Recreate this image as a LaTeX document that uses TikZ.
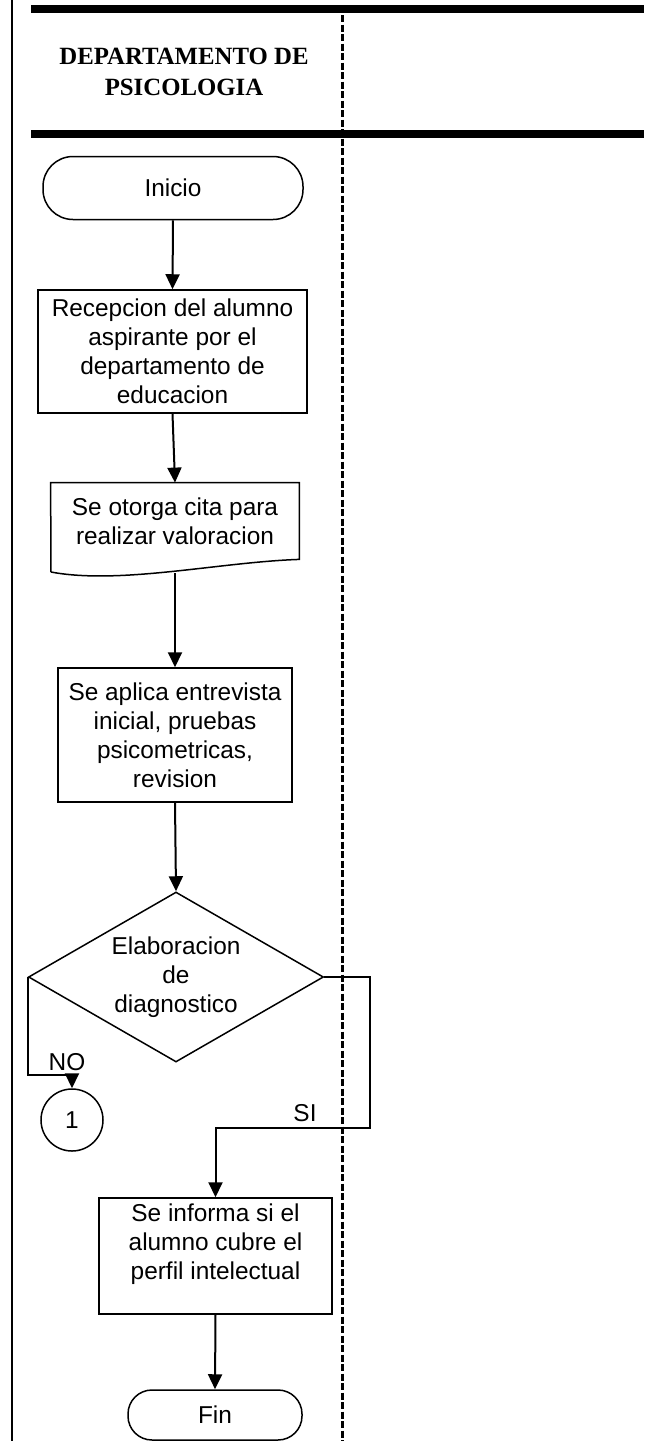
\documentclass[tikz,border=0pt]{standalone}
\usepackage{fontspec}
\setmainfont{Liberation Serif}
\newfontfamily\arialfont{Liberation Sans}
\usetikzlibrary{shapes.geometric,arrows.meta}

\tikzset{
  caja/.style={draw, line width=0.75pt, inner sep=0pt},
  terminal/.style={caja, rounded corners=15pt},
  decision/.style={caja, diamond, aspect=1.735},
  conector/.style={caja, circle, minimum size=31pt},
  flecha/.style={line width=1pt, -{Triangle[width=7pt,length=7.5pt]}},
}

\begin{document}
\begin{tikzpicture}[x=0.5pt, y=-0.5pt,
  every node/.style={font=\arialfont\fontsize{12.2}{14.5}\selectfont, align=center}]
  \useasboundingbox (0,0) rectangle (644,1441);

  % Lane frame
  \draw[line width=1pt] (12,0) -- (12,1441);
  \draw[line width=4pt] (31,9) -- (644,9);
  \draw[line width=4pt] (31,133.5) -- (644,133.5);
  \draw[line width=1.5pt, dash pattern=on 3.5pt off 1.25pt] (342,15) -- (342,1441);

  % Lane title
  \node[font=\rmfamily\bfseries\fontsize{12.4}{15.5}\selectfont] (depto) at (184,72) {DEPARTAMENTO DE\\PSICOLOGIA};

  % Flow steps
  \node[terminal, minimum width=130pt, minimum height=31.5pt] (inicio) at (173,188) {Inicio};
  \node[caja, minimum width=134.5pt, minimum height=61.5pt] (recepcion) at (172.5,351.5)
    {Recepcion del alumno\\aspirante por el\\departamento de\\educacion};

  % Document shape (wavy bottom)
  \node[minimum width=124pt, minimum height=38pt, inner sep=0pt] (cita) at (175,521)
    {Se otorga cita para\\realizar valoracion};
  \draw[line width=0.75pt] (51,572) -- (cita.north west) -- (cita.north east) -- (cita.south east)
    .. controls (220,562) and (120,585) .. (51,572);
  \coordinate (citaS) at (175,573);

  \node[caja, minimum width=117pt, minimum height=67pt] (aplica) at (175,735)
    {Se aplica entrevista\\inicial, pruebas\\psicometricas,\\revision};
  \node[decision, minimum width=147.5pt, minimum height=85pt] (diag) at (176,977)
    {Elaboracion\\de\\diagnostico};
  \node[conector] (uno) at (72,1120) {1};
  \node[caja, minimum width=116.5pt, minimum height=58pt] (informa) at (215.5,1256)
    {Se informa si el\\alumno cubre el\\perfil intelectual\\\mbox{}};
  \node[terminal, rounded corners=12pt, minimum width=87pt, minimum height=25pt] (fin) at (215,1415) {Fin};

  % Branch labels
  \node (etiqNO) at (67,1062) {NO};
  \node (etiqSI) at (305,1113) {SI};

  % Connectors
  \draw[flecha] (inicio.south) -- (recepcion.north);
  \draw[flecha] (recepcion.south) -- (cita.north);
  \draw[flecha] (citaS) -- (aplica.north);
  \draw[flecha] (aplica.south) -- (diag.north);
  \draw[flecha] (diag.west) -- ++(0,98) -| (uno.north);
  \draw[flecha] (diag.east) -- ++(46,0) -- ++(0,151) -| (informa.north);
  \draw[flecha] (informa.south) -- (fin.north);

\end{tikzpicture}
\end{document}
